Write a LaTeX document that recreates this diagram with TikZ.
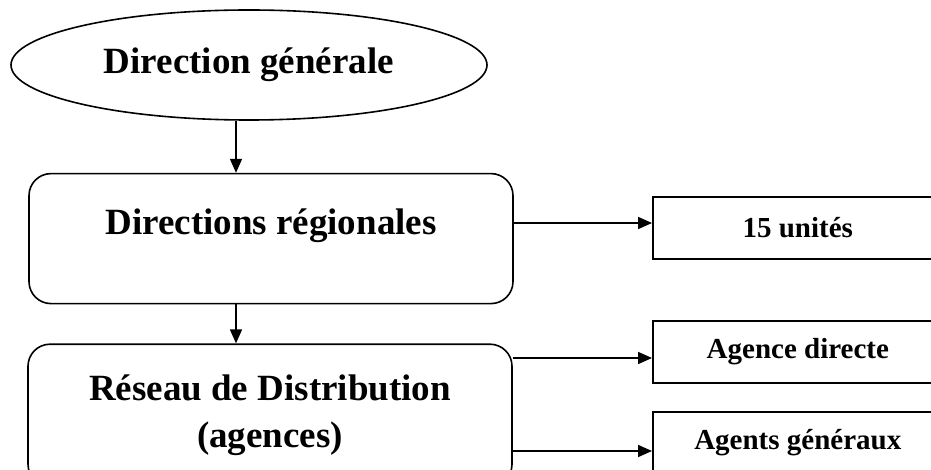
\documentclass[tikz,border=0pt]{standalone}
\usepackage{fontspec}
\setmainfont{Liberation Serif}
\usetikzlibrary{arrows.meta, positioning, shapes.geometric}
\newcommand\txtbig{\fontsize{37}{47}\selectfont\bfseries}
\newcommand\txtsmall{\fontsize{29}{34}\selectfont\bfseries}

\begin{document}
\begin{tikzpicture}[
    x=1pt, y=-1pt,
    oval/.style={draw, ellipse, line width=1.6pt, minimum width=476pt, minimum height=110pt, inner sep=0pt, font=\txtbig},
    mainbox/.style={draw, rounded corners=22pt, line width=1.6pt, minimum width=484pt, align=center, font=\txtbig},
    sidebox/.style={draw, line width=1.6pt, minimum width=290pt, minimum height=62pt, anchor=west, font=\txtsmall},
    arr/.style={-{Triangle[length=14pt, width=12pt]}, line width=1.7pt}
]
    \useasboundingbox (0,0) rectangle (931,470);
    \clip (0,0) rectangle (931,470);

    \node[oval] (dg) at (249,65) {Direction générale};
    \node[mainbox, minimum height=130pt, text height=26pt, text depth=34pt, below=52pt of dg, xshift=22pt] (dr) {Directions régionales};
    \node[mainbox, minimum height=142pt, below=39pt of dr, xshift=-1pt] (rd) {Réseau de Distribution\\(agences)};

    % side boxes
    \node[sidebox] (u15) at (652,228) {15 unités};
    \node[sidebox] (ad) at (652,352) {Agence directe};
    \node[sidebox] (ag) at (652,443) {Agents généraux};

    % Arrows
    \coordinate (ax) at (236,0);
    \draw[arr] (dg.south -| ax) -- (dr.north -| ax);
    \draw[arr] (dr.south -| ax) -- (rd.north -| ax);
    \draw[arr] ([yshift=5pt]u15.west -| dr.east) -- ([yshift=5pt]u15.west);
    \draw[arr] ([yshift=-6pt]ad.west -| rd.east) -- ([yshift=-6pt]ad.west);
    \draw[arr] ([yshift=-8pt]ag.west -| rd.east) -- ([yshift=-8pt]ag.west);
\end{tikzpicture}
\end{document}
